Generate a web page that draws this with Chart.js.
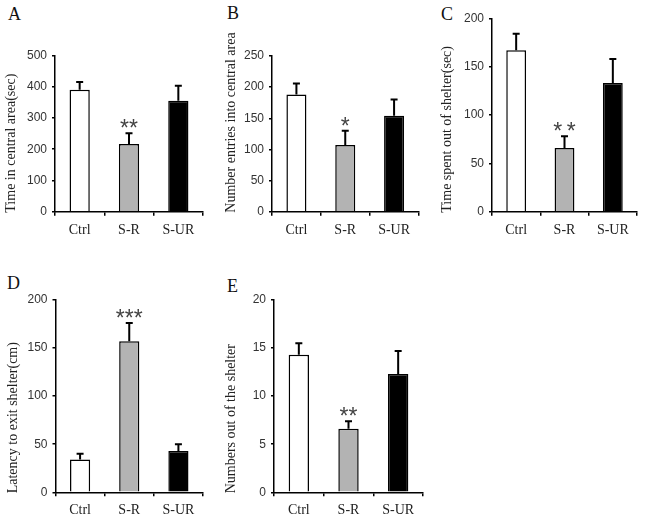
<!DOCTYPE html>
<html lang="en">
<head>
  <meta charset="UTF-8" />
  <title>Behaviour tests</title>
  <style>
    body {
      margin: 0;
      background: #fff;
      width: 645px;
      height: 522px;
      position: relative;
      overflow: hidden;
      font-family: "Liberation Serif", serif;
    }
    canvas { position: absolute; }
    .letra {
      position: absolute;
      font-size: 18px;
      line-height: 18px;
      color: #111;
    }
  </style>
</head>
<body>
  <div class="letra" style="left:8px;top:5px">A</div>
  <div class="letra" style="left:227px;top:4px">B</div>
  <div class="letra" style="left:441px;top:5px">C</div>
  <div class="letra" style="left:7px;top:274px">D</div>
  <div class="letra" style="left:227px;top:277px">E</div>

  <canvas id="chartA"></canvas>
  <canvas id="chartB"></canvas>
  <canvas id="chartC"></canvas>
  <canvas id="chartD"></canvas>
  <canvas id="chartE"></canvas>

  <script src="https://cdn.jsdelivr.net/npm/chart.js"></script>
  <script>
    // groups and values (mean, upper error)
    const groups = ['Ctrl', 'S-R', 'S-UR'];

    const timeCentral = [390, 217, 355];
    const timeCentralErr = [25, 34, 48];
    const starsA = ['', '**', ''];
    const yMaxA = 500, yStepA = 100;

    const entriesCentral = [188, 107, 154];
    const entriesCentralErr = [18, 23, 26];
    const starsB = ['', '*', ''];
    const yMaxB = 250, yStepB = 50;

    const timeOutShelter = [167, 66, 133];
    const timeOutShelterErr = [17, 12, 25];
    const starsC = ['', '*\u2009*', ''];
    const yMaxC = 200, yStepC = 50;

    const latencyExit = [34, 157, 43];
    const latencyExitErr = [6, 19, 7];
    const starsD = ['', '***', ''];
    const yMaxD = 200, yStepD = 50;

    const numbersOut = [14.3, 6.6, 12.3];
    const numbersOutErr = [1.2, 0.8, 2.4];
    const starsE = ['', '**', ''];
    const yMaxE = 20, yStepE = 5;

    const barColors = ['#ffffff', '#b3b3b3', '#000000'];

    // error bars, asterisks and the y title (title drawn by hand so it is not squeezed)
    const extras = {
      id: 'extras',
      afterDatasetsDraw(chart, args, opts) {
        const ctx = chart.ctx;
        const y = chart.scales.y;
        const meta = chart.getDatasetMeta(0);
        const data = chart.data.datasets[0].data;
        ctx.save();
        ctx.strokeStyle = '#000';
        ctx.lineWidth = 2;
        opts.errors.forEach((e, i) => {
          const x = meta.data[i].x;
          const y0 = y.getPixelForValue(data[i]);
          const y1 = y.getPixelForValue(data[i] + e);
          ctx.beginPath();
          ctx.moveTo(x, y0);
          ctx.lineTo(x, y1);
          ctx.moveTo(x - 3.5, y1);
          ctx.lineTo(x + 3.5, y1);
          ctx.stroke();
          if (opts.stars[i]) {
            ctx.fillStyle = '#444';
            ctx.font = '23px "Liberation Sans"';
            ctx.textAlign = 'center';
            ctx.textBaseline = 'alphabetic';
            ctx.fillText(opts.stars[i], x, y1 + 3);
          }
        });
        const area = chart.chartArea;
        ctx.translate(area.left - opts.titleDx, area.bottom + 1);
        ctx.rotate(-Math.PI / 2);
        ctx.fillStyle = '#222';
        ctx.font = '14px "Liberation Serif"';
        ctx.textAlign = 'left';
        ctx.textBaseline = 'middle';
        ctx.fillText(opts.title, 0, 0);
        ctx.restore();
      }
    };

    function desenha(id, box, values, errors, stars, title, yMax, yStep) {
      const YW = box.titleDx + 14;
      const XH = 30;
      const padTop = 40;
      const canvasLeft = Math.floor(box.left - YW - 2);
      const canvasTop = Math.floor(box.top - padTop);
      const w = Math.ceil(box.right + 6 - canvasLeft);
      const h = Math.ceil(box.bottom - canvasTop + XH);
      const canvas = document.getElementById(id);
      canvas.width = w;
      canvas.height = h;
      canvas.style.left = canvasLeft + 'px';
      canvas.style.top = canvasTop + 'px';

      new Chart(canvas, {
        type: 'bar',
        data: {
          labels: groups,
          datasets: [{
            data: values,
            backgroundColor: barColors,
            borderColor: '#000',
            borderWidth: 1.5,
            barPercentage: 0.41,
            categoryPercentage: 1
          }]
        },
        options: {
          responsive: false,
          animation: false,
          layout: {
            padding: {
              left: box.left - YW - canvasLeft,
              top: box.top - canvasTop,
              right: w - (box.right - canvasLeft),
              bottom: h - (box.bottom - canvasTop) - XH
            }
          },
          plugins: {
            legend: { display: false },
            tooltip: { enabled: false },
            extras: { errors: errors, stars: stars, title: title, titleDx: box.titleDx }
          },
          scales: {
            x: {
              grid: { display: true, drawOnChartArea: false, tickLength: 4, color: '#000', lineWidth: 1.5, offset: true },
              border: { display: true, color: '#000', width: 1.5 },
              ticks: { color: '#222', font: { family: '"Liberation Serif"', size: 14 }, padding: 6 },
              afterFit: s => { s.height = XH; }
            },
            y: {
              min: 0,
              max: yMax,
              ticks: { stepSize: yStep, color: '#333', font: { family: '"Liberation Sans"', size: 12 }, padding: 5 },
              grid: { drawOnChartArea: false, tickLength: 3, color: '#000', lineWidth: 1.5 },
              border: { display: true, color: '#000', width: 1.5 },
              afterFit: s => { s.width = YW; }
            }
          }
        },
        plugins: [extras]
      });
    }

    desenha('chartA', { left: 55, right: 203, top: 55.5, bottom: 211.7, titleDx: 43.3 },
      timeCentral, timeCentralErr, starsA, 'Time in central area(sec)', yMaxA, yStepA);
    desenha('chartB', { left: 272, right: 418.5, top: 56, bottom: 211.7, titleDx: 40.3 },
      entriesCentral, entriesCentralErr, starsB, 'Number entries into central area', yMaxB, yStepB);
    desenha('chartC', { left: 492, right: 637, top: 18.3, bottom: 211.7, titleDx: 45 },
      timeOutShelter, timeOutShelterErr, starsC, 'Time spent out of shelter(sec)', yMaxC, yStepC);
    desenha('chartD', { left: 55.5, right: 203, top: 300, bottom: 492.3, titleDx: 42 },
      latencyExit, latencyExitErr, starsD, 'Latency to exit shelter(cm)', yMaxD, yStepD);
    desenha('chartE', { left: 274, right: 423, top: 300, bottom: 492.3, titleDx: 42.3 },
      numbersOut, numbersOutErr, starsE, 'Numbers out of the shelter', yMaxE, yStepE);
  </script>
</body>
</html>
